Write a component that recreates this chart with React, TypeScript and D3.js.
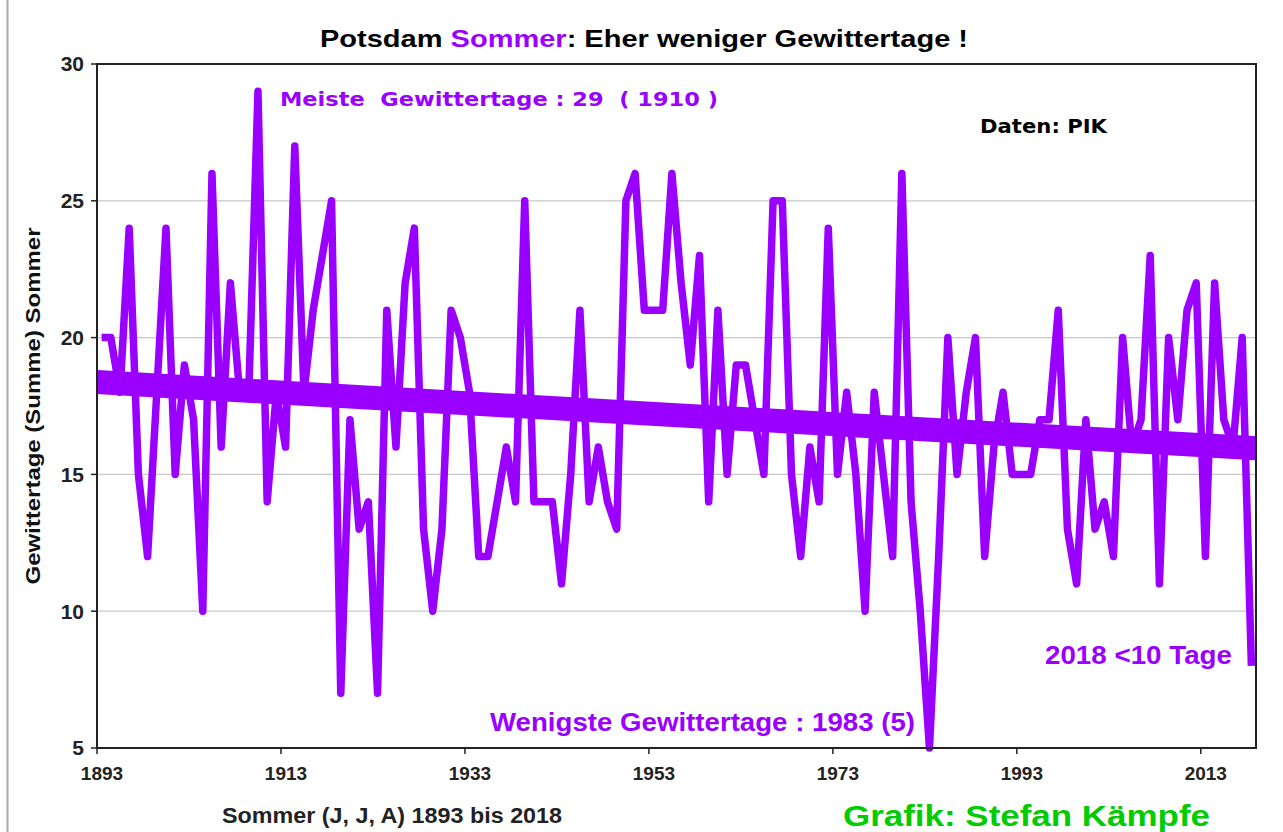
import React from "react";
import * as d3 from "d3";

// Gewittertage (Summe) im Sommer, Potsdam 1893..2018
const years = d3.range(1893, 2019);
const stormDays = [
  20, 20, 18, 24, 15, 12, 18, 24, 15, 19, // 1893-1902
  17, 10, 26, 16, 22, 18, 18, 29, 14, 18, // 1903-1912
  16, 27, 18, 21, 23, 25, 7, 17, 13, 14, // 1913-1922
  7, 21, 16, 22, 24, 13, 10, 13, 21, 20, // 1923-1932
  18, 12, 12, 14, 16, 14, 25, 14, 14, 14, // 1933-1942
  11, 15, 21, 14, 16, 14, 13, 25, 26, 21, // 1943-1952
  21, 21, 26, 22, 19, 23, 14, 21, 15, 19, // 1953-1962
  19, 17, 15, 25, 25, 15, 12, 16, 14, 24, // 1963-1972
  15, 18, 15, 10, 18, 15, 12, 26, 14, 10, // 1973-1982
  5, 12, 20, 15, 18, 20, 12, 16, 18, 15, // 1983-1992
  15, 15, 17, 17, 21, 13, 11, 17, 13, 14, // 1993-2002
  12, 20, 16, 17, 23, 11, 20, 17, 21, 22, // 2003-2012
  12, 22, 17, 16, 20, 8, // 2013-2018
];
const xTicks = [1893, 1913, 1933, 1953, 1973, 1993, 2013];
const yTicks = [5, 10, 15, 20, 25, 30];

const PURPLE = "#9900ff";
const FONT = "'Liberation Sans', Arial, sans-serif";

const margin = { top: 64, right: 27, bottom: 84, left: 97 };
const W = 1283;
const H = 832;

export default function App() {
  const x = d3
    .scaleLinear()
    .domain([1893, 2019])
    .range([margin.left, W - margin.right]);
  const y = d3
    .scaleLinear()
    .domain([5, 30])
    .range([H - margin.bottom, margin.top]);

  const pts: [number, number][] = years.map((yr, i) => [yr, stormDays[i]]);

  // points sit in the middle of their year
  const line = d3
    .line<[number, number]>()
    .x((d) => x(d[0] + 0.5))
    .y((d) => y(d[1]));

  // linear trend (least squares)
  const mx = d3.mean(years)!;
  const my = d3.mean(stormDays)!;
  const slope =
    d3.sum(years, (yr, i) => (yr - mx) * (stormDays[i] - my)) /
    d3.sum(years, (yr) => (yr - mx) * (yr - mx));
  const trend = (yr: number) => my + slope * (yr - mx);
  const [x0, x1] = x.domain();

  return (
    <svg
      width={W}
      height={H}
      style={{ position: "absolute", left: 0, top: 0, background: "#fff" }}
      fontFamily={FONT}
      fontWeight="bold"
    >
      <line x1={7.5} x2={7.5} y1={0} y2={H} stroke="#aaa" strokeWidth={2} />

      {/* title */}
      <text
        x={320}
        y={47}
        fontSize={24}
        fill="#000"
        textLength={648}
        lengthAdjust="spacingAndGlyphs"
      >
        Potsdam <tspan fill={PURPLE}>Sommer</tspan>: Eher weniger Gewittertage !
      </text>

      {/* grid */}
      {yTicks.slice(1, -1).map((t) => (
        <line
          key={t}
          x1={x(x0)}
          x2={x(x1)}
          y1={y(t)}
          y2={y(t)}
          stroke="#c8c8c8"
          strokeWidth={1.2}
        />
      ))}

      {/* trend */}
      <line
        x1={x(x0)}
        x2={x(x1)}
        y1={y(trend(x0))}
        y2={y(trend(x1))}
        stroke={PURPLE}
        strokeWidth={24}
      />

      {/* series */}
      <path
        d={line(pts)!}
        fill="none"
        stroke={PURPLE}
        strokeWidth={7.5}
        strokeLinejoin="round"
      />

      {/* frame */}
      <rect
        x={x(x0)}
        y={y(30)}
        width={x(x1) - x(x0)}
        height={y(5) - y(30)}
        fill="none"
        stroke="#222"
        strokeWidth={2}
      />

      {/* y axis */}
      {yTicks.map((t) => (
        <g key={t}>
          <line x1={x(x0) - 6} x2={x(x0)} y1={y(t)} y2={y(t)} stroke="#222" strokeWidth={1.5} />
          <text x={x(x0) - 13} y={y(t)} dy="0.35em" textAnchor="end" fontSize={21} fill="#222">
            {t}
          </text>
        </g>
      ))}
      <text
        transform={`translate(40,${(y(5) + y(30)) / 2}) rotate(-90)`}
        textAnchor="middle"
        fontSize={20}
        fill="#111"
        textLength={357}
        lengthAdjust="spacingAndGlyphs"
      >
        Gewittertage (Summe) Sommer
      </text>

      {/* x axis */}
      {xTicks.map((t) => (
        <g key={t}>
          <line x1={x(t)} x2={x(t)} y1={y(5)} y2={y(5) + 6} stroke="#222" strokeWidth={1.5} />
          <text x={x(t) + 5} y={y(5) + 32} textAnchor="middle" fontSize={19} fill="#222">
            {t}
          </text>
        </g>
      ))}
      <text x={222} y={823} fontSize={22} fill="#222" textLength={340} lengthAdjust="spacingAndGlyphs">
        Sommer (J, J, A) 1893 bis 2018
      </text>
      <text x={843} y={826} fontSize={30} fill="#00cc00" textLength={367} lengthAdjust="spacingAndGlyphs">
        Grafik: Stefan Kämpfe
      </text>

      {/* annotations */}
      <text
        x={980}
        y={133}
        fontSize={19}
        fill="#000"
        fontFamily="'DejaVu Sans', sans-serif"
        textLength={127}
        lengthAdjust="spacingAndGlyphs"
      >
        Daten: PIK
      </text>
      <text
        x={280}
        y={106}
        fontSize={20}
        fill={PURPLE}
        fontFamily="'DejaVu Sans', sans-serif"
        textLength={438}
        lengthAdjust="spacingAndGlyphs"
        style={{ whiteSpace: "pre" }}
      >
        {"Meiste  Gewittertage : 29  ( 1910 )"}
      </text>
      <text x={490} y={731} fontSize={25} fill={PURPLE} textLength={425} lengthAdjust="spacingAndGlyphs">
        Wenigste Gewittertage : 1983 (5)
      </text>
      <text x={1045} y={664} fontSize={25} fill={PURPLE} textLength={187} lengthAdjust="spacingAndGlyphs">
        2018 &lt;10 Tage
      </text>
    </svg>
  );
}
